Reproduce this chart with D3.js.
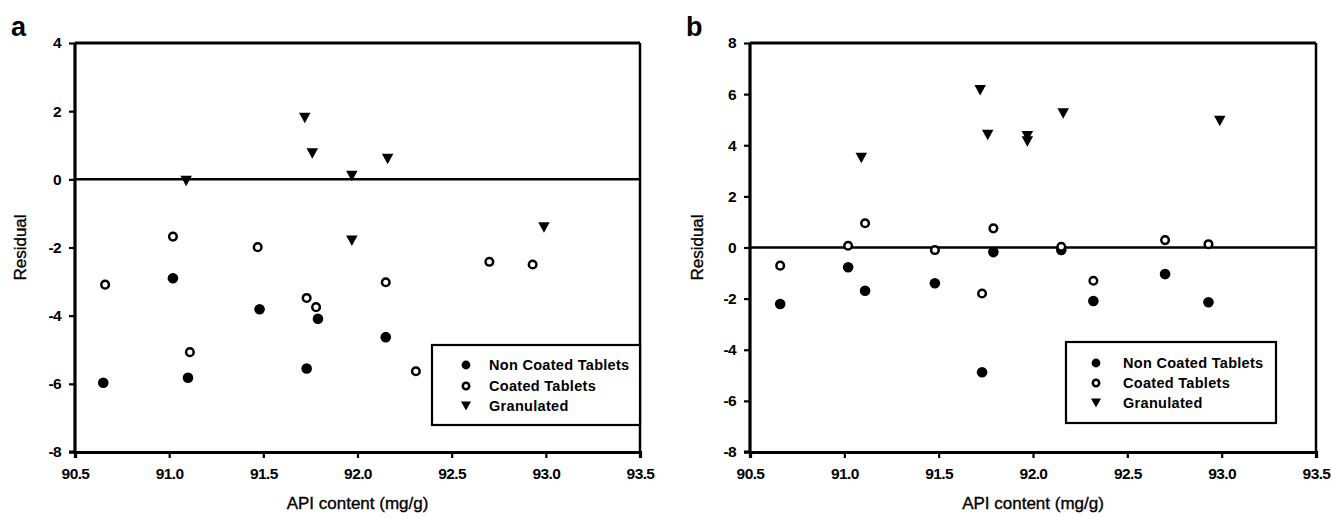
<!DOCTYPE html>
<html>
<head>
<meta charset="utf-8">
<script src="https://cdn.jsdelivr.net/npm/d3@7"></script>
<style>
  html, body { margin: 0; padding: 0; background: #fff; }
  svg { display: block; font-family: Arial, "Liberation Sans", sans-serif; }
</style>
</head>
<body>
<svg id="chart" width="1331" height="518"></svg>
<script>
// ---- data ----
const xTicks = [90.5, 91.0, 91.5, 92.0, 92.5, 93.0, 93.5];
const yTicksA = [-8, -6, -4, -2, 0, 2, 4];
const yTicksB = [-8, -6, -4, -2, 0, 2, 4, 6, 8];
const seriesNames = ["Non Coated Tablets", "Coated Tablets", "Granulated"];

// panel a
const nonCoatedAx = [90.65, 91.02, 91.10, 91.48, 91.73, 91.79, 92.15];
const nonCoatedAy = [-5.97, -2.90, -5.82, -3.81, -5.55, -4.09, -4.63];
const coatedAx = [90.66, 91.02, 91.11, 91.47, 91.73, 91.78, 92.15, 92.31, 92.70, 92.93];
const coatedAy = [-3.09, -1.68, -5.07, -1.99, -3.48, -3.75, -3.02, -5.63, -2.42, -2.50];
const granulatedAx = [91.09, 91.72, 91.76, 91.97, 91.97, 92.16, 92.99];
const granulatedAy = [-0.05, 1.80, 0.76, 0.10, -1.80, 0.60, -1.41];

// panel b
const nonCoatedBx = [90.66, 91.02, 91.11, 91.48, 91.73, 91.79, 92.15, 92.32, 92.70, 92.93];
const nonCoatedBy = [-2.21, -0.77, -1.69, -1.40, -4.88, -0.18, -0.10, -2.09, -1.04, -2.14];
const coatedBx = [90.66, 91.02, 91.11, 91.48, 91.73, 91.79, 92.15, 92.32, 92.70, 92.93];
const coatedBy = [-0.71, 0.07, 0.95, -0.10, -1.80, 0.75, 0.03, -1.30, 0.29, 0.13];
const granulatedBx = [91.09, 91.72, 91.76, 91.97, 91.97, 92.16, 92.99];
const granulatedBy = [3.50, 6.15, 4.40, 4.35, 4.15, 5.24, 4.95];

const zip = (xs, ys) => xs.map((x, i) => ({ x, y: ys[i] }));

const panels = [
  {
    letter: "a", letterX: 11, letterY: 36,
    left: 75, right: 640, top: 43, bottom: 452,
    yDomain: [-8, 4], yTicks: yTicksA,
    yTitleX: 26,
    series: [zip(nonCoatedAx, nonCoatedAy), zip(coatedAx, coatedAy), zip(granulatedAx, granulatedAy)],
    legend: { x0: 432, y0: 345, x1: 640, y1: 425, markX: 466, textX: 489, rows: [365, 386, 406] }
  },
  {
    letter: "b", letterX: 686, letterY: 36,
    left: 750, right: 1316, top: 43, bottom: 452,
    yDomain: [-8, 8], yTicks: yTicksB,
    yTitleX: 703,
    series: [zip(nonCoatedBx, nonCoatedBy), zip(coatedBx, coatedBy), zip(granulatedBx, granulatedBy)],
    legend: { x0: 1066, y0: 342, x1: 1276, y1: 423, markX: 1096, textX: 1123, rows: [363, 383, 403] }
  }
];

const svg = d3.select("#chart");
const fmtX = d3.format(".1f");
const fmtY = d => String(d).replace("\u2212", "-");

// marker painters
function filledCircle(g, cx, cy, r) {
  g.append("circle").attr("cx", cx).attr("cy", cy).attr("r", r).attr("fill", "#000");
}
function openCircle(g, cx, cy, r) {
  g.append("circle").attr("cx", cx).attr("cy", cy).attr("r", r)
    .attr("fill", "#fff").attr("stroke", "#000").attr("stroke-width", 2.5);
}
function downTriangle(g, cx, cy, w, h) {
  g.append("path")
    .attr("d", `M${cx - w / 2},${cy - h / 2}L${cx + w / 2},${cy - h / 2}L${cx},${cy + h / 2}Z`)
    .attr("fill", "#000");
}

panels.forEach(p => {
  const x = d3.scaleLinear().domain([90.5, 93.5]).range([p.left, p.right]);
  const y = d3.scaleLinear().domain(p.yDomain).range([p.bottom, p.top]);
  const g = svg.append("g");

  // panel letter
  g.append("text").attr("x", p.letterX).attr("y", p.letterY)
    .attr("font-size", 27).attr("font-weight", "bold").text(p.letter);

  // top and right frame
  g.append("line").attr("x1", p.left).attr("x2", p.right).attr("y1", p.top).attr("y2", p.top)
    .attr("stroke", "#000").attr("stroke-width", 3);
  g.append("line").attr("x1", p.right).attr("x2", p.right).attr("y1", p.top).attr("y2", p.bottom)
    .attr("stroke", "#000").attr("stroke-width", 2.5);

  // zero reference line
  g.append("line").attr("x1", p.left).attr("x2", p.right).attr("y1", y(0)).attr("y2", y(0))
    .attr("stroke", "#000").attr("stroke-width", 2.5);

  // axes
  const yAxis = g.append("g").attr("transform", `translate(${p.left},0)`)
    .call(d3.axisLeft(y).tickValues(p.yTicks).tickFormat(fmtY).tickSize(6).tickPadding(8));
  const xAxis = g.append("g").attr("transform", `translate(0,${p.bottom})`)
    .call(d3.axisBottom(x).tickValues(xTicks).tickFormat(fmtX).tickSize(6).tickPadding(10));
  [yAxis, xAxis].forEach(a => {
    a.select(".domain").attr("stroke-width", 3.2).attr("stroke", "#000");
    a.selectAll(".tick line").attr("stroke-width", 2.2).attr("stroke", "#000");
    a.selectAll(".tick text").attr("font-size", 15.5).attr("font-weight", "bold")
      .attr("letter-spacing", -0.6)
      .attr("font-family", "Arial, 'Liberation Sans', sans-serif").attr("fill", "#000");
  });
  yAxis.select(".domain").attr("d", `M-6,${p.bottom}H0V${p.top}`);

  // axis titles
  g.append("text").attr("x", (p.left + p.right) / 2).attr("y", 509)
    .attr("text-anchor", "middle").attr("font-size", 17)
    .attr("stroke", "#000").attr("stroke-width", 0.35).text("API content (mg/g)");
  g.append("text").attr("transform", `translate(${p.yTitleX},${(p.top + p.bottom) / 2}) rotate(-90)`)
    .attr("text-anchor", "middle").attr("font-size", 17)
    .attr("stroke", "#000").attr("stroke-width", 0.35).text("Residual");

  // points
  const marks = g.append("g");
  p.series[0].forEach(d => filledCircle(marks, x(d.x), y(d.y), 5.3));
  p.series[1].forEach(d => openCircle(marks, x(d.x), y(d.y), 3.8));
  p.series[2].forEach(d => downTriangle(marks, x(d.x), y(d.y), 11.5, 10.5));

  // legend
  const L = p.legend;
  const lg = g.append("g");
  lg.append("rect").attr("x", L.x0).attr("y", L.y0).attr("width", L.x1 - L.x0).attr("height", L.y1 - L.y0)
    .attr("fill", "#fff").attr("stroke", "#000").attr("stroke-width", 2.2);
  filledCircle(lg, L.markX, L.rows[0], 4.4);
  openCircle(lg, L.markX, L.rows[1], 3.2);
  downTriangle(lg, L.markX, L.rows[2], 10, 9);
  seriesNames.forEach((name, i) => {
    lg.append("text").attr("x", L.textX).attr("y", L.rows[i]).attr("dy", "0.36em")
      .attr("font-size", 14.5).attr("font-weight", "bold").attr("letter-spacing", 0.3).text(name);
  });
});
</script>
</body>
</html>
